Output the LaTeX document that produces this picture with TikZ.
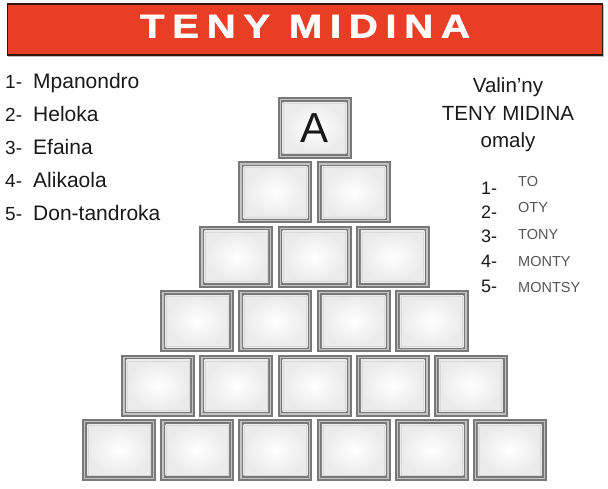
\documentclass[tikz,border=0pt]{standalone}
\usepackage{fontspec}
\setmainfont{Liberation Sans}
\newfontfamily\titlefont{Liberation Sans}[FakeStretch=1.22,LetterSpace=23,FakeBold=1.6]
\usetikzlibrary{calc}
\definecolor{bannerred}{RGB}{232,62,38}
\definecolor{bannerline}{RGB}{50,22,14}
\definecolor{framedark}{RGB}{120,120,120}
\definecolor{framelight}{RGB}{195,195,195}
\definecolor{wordgray}{RGB}{85,85,85}
\tikzset{
  listtext/.style={anchor=base west,inner sep=0pt,font=\fontsize{21}{21}\selectfont,text=black!90},
  listnum/.style={anchor=base west,inner sep=0pt,font=\fontsize{19}{19}\selectfont,text=black!90},
  centretext/.style={anchor=base,inner sep=0pt,font=\fontsize{20.5}{20.5}\selectfont,text=black!90},
  smallnum/.style={anchor=base west,inner sep=0pt,font=\fontsize{18}{18}\selectfont,text=black!90},
  smallword/.style={anchor=base west,inner sep=0pt,font=\fontsize{14.5}{14.5}\selectfont,text=wordgray},
}
% tile macro: #1 name, #2 centre x, #3 top y
\newcommand{\tile}[3]{%
  \fill[framedark] (#2-37,#3) rectangle (#2+37,#3+62);
  \fill[framelight] (#2-35,#3+2) rectangle (#2+35,#3+60);
  \fill[framedark] (#2-33.8,#3+3.2) rectangle (#2+33.8,#3+58.8);
  \shade[inner color=white,outer color=gray!16] (#2-31.8,#3+5.2) rectangle (#2+31.8,#3+56.8);
  \draw[gray!30,line width=0.5pt] (#2-30.8,#3+6.2) rectangle (#2+30.8,#3+55.8);
  \coordinate (#1) at (#2,#3+31);
}
\begin{document}
\begin{tikzpicture}[x=1pt,y=-1pt]
\useasboundingbox (0,0) rectangle (608,489);
\fill[white] (0,0) rectangle (608,489);
% banner
\fill[black!25] (8,5) rectangle (604,57);
\node[draw=bannerline,line width=1.8pt,fill=bannerred,minimum width=595pt,minimum height=51pt,inner sep=0pt,anchor=north west] (banner) at (6.5,3.5) {};
\node[text=white,font=\titlefont\bfseries\fontsize{33}{33}\selectfont,inner sep=0pt,anchor=base] (title) at (305,37.5) {TENY MIDINA};
% left list
\node[listnum] (n1) at (5,89) {1-};
\node[listtext] (w1) at (33,89) {Mpanondro};
\node[listnum] (n2) at (5,122) {2-};
\node[listtext] (w2) at (33,122) {Heloka};
\node[listnum] (n3) at (5,155) {3-};
\node[listtext] (w3) at (33,155) {Efaina};
\node[listnum] (n4) at (5,188) {4-};
\node[listtext] (w4) at (33,188) {Alikaola};
\node[listnum] (n5) at (5,221) {5-};
\node[listtext] (w5) at (33,221) {Don-tandroka};
% right block
\node[centretext] (r1) at (508,93) {Valin'ny};
\node[centretext] (r2) at (508,121) {TENY MIDINA};
\node[centretext] (r3) at (508,148) {omaly};
\node[smallnum] (m1) at (481,195) {1-};
\node[smallnum] (m2) at (481,219) {2-};
\node[smallnum] (m3) at (481,243) {3-};
\node[smallnum] (m4) at (481,268) {4-};
\node[smallnum] (m5) at (481,292) {5-};
\node[smallword] (s1) at (518,187) {TO};
\node[smallword] (s2) at (518,213) {OTY};
\node[smallword] (s3) at (518,240) {TONY};
\node[smallword] (s4) at (518,266) {MONTY};
\node[smallword] (s5) at (518,293) {MONTSY};
% pyramid
\foreach \r in {0,...,5}{
  \foreach \i in {0,...,\r}{
    \pgfmathsetmacro{\cx}{314.5+(\i-\r/2)*78.1}
    \pgfmathsetmacro{\ty}{97+\r*64.4}
    \tile{t\r\i}{\cx}{\ty}
  }
}
\node[inner sep=0pt,font=\fontsize{42}{42}\selectfont,text=black!90] (letterA) at (t00) {A};
\end{tikzpicture}
\end{document}
